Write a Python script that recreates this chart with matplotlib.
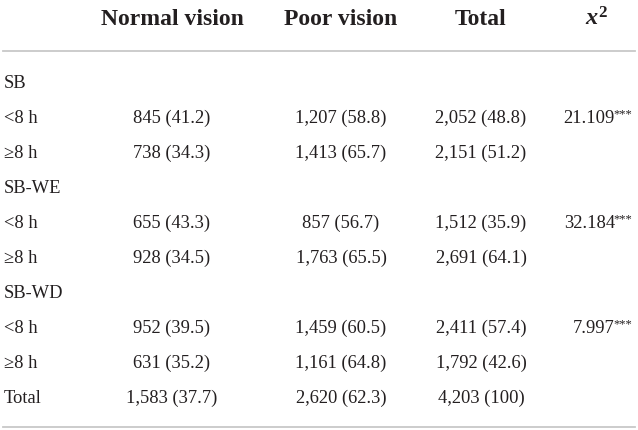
import matplotlib

matplotlib.use("Agg")
import matplotlib.pyplot as plt
from matplotlib.lines import Line2D

plt.rcParams["font.family"] = ["Liberation Serif", "DejaVu Serif"]
plt.rcParams["mathtext.fontset"] = "custom"
plt.rcParams["mathtext.it"] = "Liberation Serif:italic:bold"
plt.rcParams["mathtext.rm"] = "Liberation Serif:bold"

headers = ["Normal vision", "Poor vision", "Total"]
row_labels = ["SB", "<8 h", "≥8 h", "SB-WE", "<8 h", "≥8 h",
              "SB-WD", "<8 h", "≥8 h", "Total"]
normal = ["", "845 (41.2)", "738 (34.3)", "", "655 (43.3)", "928 (34.5)",
          "", "952 (39.5)", "631 (35.2)", "1,583 (37.7)"]
poor = ["", "1,207 (58.8)", "1,413 (65.7)", "", "857 (56.7)", "1,763 (65.5)",
        "", "1,459 (60.5)", "1,161 (64.8)", "2,620 (62.3)"]
total = ["", "2,052 (48.8)", "2,151 (51.2)", "", "1,512 (35.9)", "2,691 (64.1)",
         "", "2,411 (57.4)", "1,792 (42.6)", "4,203 (100)"]
chi2 = ["", "21.109", "", "", "32.184", "", "", "7.997", "", ""]
stars = ["", "***", "", "", "***", "", "", "***", "", ""]

W, H = 638, 430
TEXT = "#231f20"
RULE = "#c8c8c8"

fig = plt.figure(figsize=(W / 100, H / 100), dpi=100)


def px(x, y):
    return x / W, 1 - y / H


col_x = [172, 341, 481]
chi_x = 597
# text baselines, in pixels from the top
base_y = [88 + 35.0 * i for i in range(len(row_labels))]

# header
for name, x in zip(headers, col_x):
    fig.text(*px(x, 25), name, ha="center", va="baseline",
             fontsize=17, fontweight="bold", color=TEXT)
fig.text(*px(chi_x, 25), r"$x^2$", ha="center", va="baseline",
         fontsize=17.5, color=TEXT)

# rules
for y in (51, 427):
    fig.add_artist(Line2D([3 / W, 635 / W], [1 - y / H] * 2,
                          color=RULE, lw=1.3))

# body
for i, y in enumerate(base_y):
    fig.text(*px(4, y), row_labels[i], ha="left", va="baseline",
             fontsize=13.3, color=TEXT)
    for col, x in zip((normal, poor, total), col_x):
        if col[i]:
            fig.text(*px(x, y), col[i], ha="center", va="baseline",
                     fontsize=13.3, color=TEXT)
    if chi2[i]:
        fig.text(*px(615, y), chi2[i], ha="right", va="baseline",
                 fontsize=13.3, color=TEXT)
        fig.text(*px(613.5, y - 6), stars[i], ha="left", va="baseline",
                 fontsize=9, color=TEXT)

fig.savefig("out.png", dpi=100)
